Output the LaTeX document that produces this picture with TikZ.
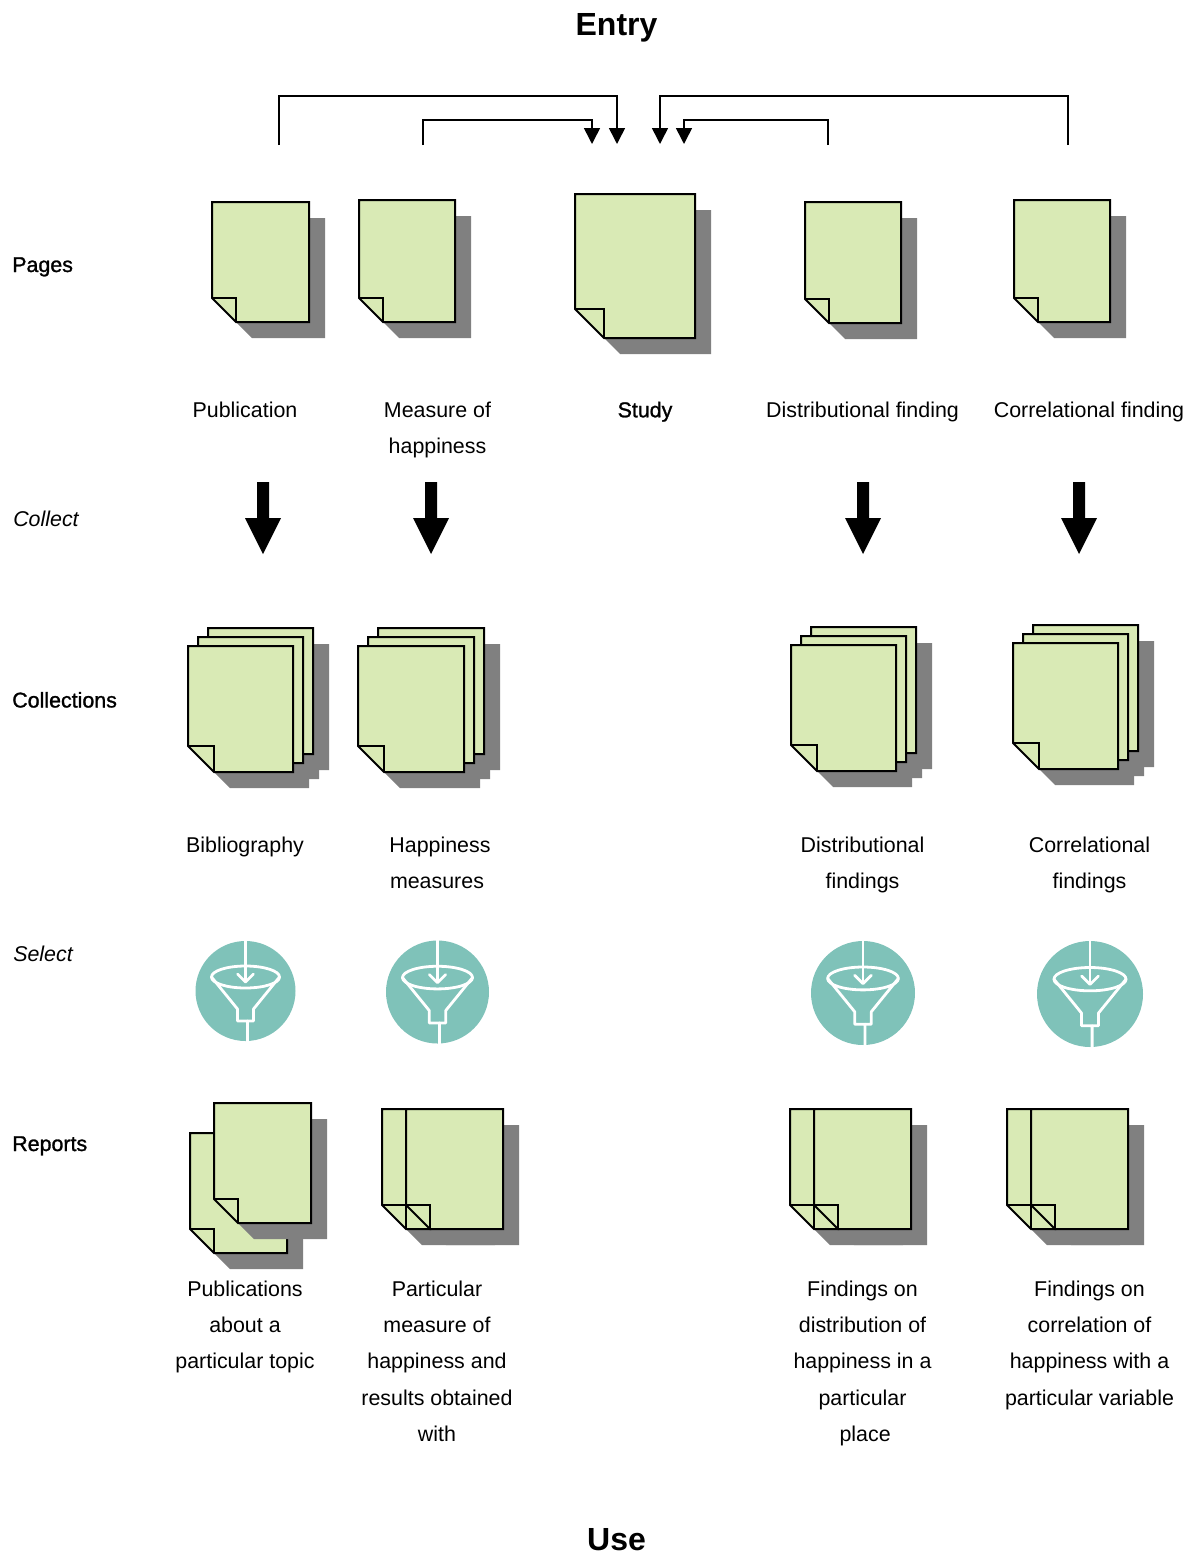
\documentclass[tikz,border=0pt]{standalone}
\usepackage{fontspec}
\setmainfont{Liberation Sans}
\newfontfamily\fakebold[FakeBold=1.2]{Liberation Sans}
\usetikzlibrary{arrows.meta}
\definecolor{pagegreen}{HTML}{D9EAB5}
\definecolor{shadowgray}{HTML}{808080}
\definecolor{filterteal}{HTML}{7FC2B9}
\tikzset{
  paper/.style={fill=pagegreen,draw=black,line width=1.5pt,line join=miter},
  papershadow/.style={fill=shadowgray,draw=none},
  bracket/.style={draw=black,line width=1.2pt,-{Triangle[width=12pt,length=12pt]}},
  labeltext/.style={anchor=north,inner sep=0pt,align=center,font=\fontsize{16.05}{27.2}\selectfont},
  sidelabel/.style={anchor=base west,inner sep=0pt,font=\fontsize{16.05}{27.2}\fakebold\selectfont},
  sideitalic/.style={anchor=base west,inner sep=0pt,font=\fontsize{16.05}{27.2}\itshape\selectfont},
  titletext/.style={inner sep=0pt,font=\fontsize{24}{28}\bfseries\selectfont},
  bigarrow/.style={fill=black,draw=none},
  funnelline/.style={draw=white,line width=2.1pt,line join=round,line cap=round}
}
% #1 x0, #2 y0, #3 x1, #4 y1, #5 fold
\newcommand{\sheetpath}[5]{(#1,#2) -- (#3,#2) -- (#3,#4) -- ({#1+#5},#4) -- (#1,{#4-#5}) -- cycle}
\newcommand{\sheetshadow}[5]{\fill[papershadow] ({#1+16},{#2+16}) -- ({#3+16},{#2+16}) -- ({#3+16},{#4+16}) -- ({#1+#5+16},{#4+16}) -- ({#1+16},{#4-#5+16}) -- cycle;}
\newcommand{\sheetbody}[5]{\draw[paper] \sheetpath{#1}{#2}{#3}{#4}{#5};
  \draw[paper,fill=none] (#1,{#4-#5}) -- ({#1+#5},{#4-#5}) -- ({#1+#5},#4);}
\newcommand{\sheet}[5]{\sheetshadow{#1}{#2}{#3}{#4}{#5}\sheetbody{#1}{#2}{#3}{#4}{#5}}
% stack of three: front x0 y0 x1 y1
\newcommand{\sheetstack}[4]{%
  \sheetshadow{#1+20}{#2-18}{#3+20}{#4-18}{26}
  \sheetshadow{#1+10}{#2-9}{#3+10}{#4-9}{26}
  \sheetshadow{#1}{#2}{#3}{#4}{26}
  \sheetbody{#1+20}{#2-18}{#3+20}{#4-18}{26}
  \sheetbody{#1+10}{#2-9}{#3+10}{#4-9}{26}
  \sheetbody{#1}{#2}{#3}{#4}{26}}
% cx, tip-free block arrow
\newcommand{\blockarrow}[1]{\fill[bigarrow] ({#1-6},482) -- ({#1+6},482) -- ({#1+6},518) -- ({#1+18},518) -- (#1,554) -- ({#1-18},518) -- ({#1-6},518) -- cycle;}
% cx cy r
\newcommand{\filtericon}[3]{%
  \begin{scope}[shift={(#1,#2)},x={#3/50*0.75pt},y={-#3/50*0.75pt}]
    \fill[filterteal] (0,0) circle[radius=50];
    \draw[funnelline] (0,-51) -- (0,-10);
    \draw[funnelline] (-8,-17) -- (0,-9) -- (8,-17);
    \draw[funnelline] (0,-14) ellipse[x radius=34,y radius=11];
    \draw[funnelline] (-34,-14) -- (-8,18) -- (-8,30) -- (2,30) -- (2,51);
    \draw[funnelline] (34,-14) -- (8,18) -- (8,30) -- (2,30);
  \end{scope}}
\begin{document}
\begin{tikzpicture}[x=0.75pt,y=-0.75pt]
\useasboundingbox (0,0) rectangle (1198,1556);
% titles
\node[titletext] (entry) at (616.5,28) {Entry};
\node[titletext] (use) at (616.5,1540) {Use};
% side labels
\node[sidelabel] (pages) at (12,272) {Pages};
\node[sideitalic] (collect) at (13,526) {Collect};
\node[sidelabel] (collections) at (12,707.5) {Collections};
\node[sideitalic] (select) at (13,961) {Select};
\node[sidelabel] (reports) at (12,1151) {Reports};
% connectors
\coordinate (a1) at (279,145); \coordinate (a1t) at (279,96); \coordinate (a1e) at (617,144); 
\coordinate (a2) at (423,145); \coordinate (a2t) at (423,120); \coordinate (a2e) at (592,144);
\coordinate (a3) at (1068,145); \coordinate (a3t) at (1068,96); \coordinate (a3e) at (660,144);
\coordinate (a4) at (828,145); \coordinate (a4t) at (828,120); \coordinate (a4e) at (684,144);
\draw[bracket] (a1) -- (a1t) -| (a1e);
\draw[bracket] (a2) -- (a2t) -| (a2e);
\draw[bracket] (a3) -- (a3t) -| (a3e);
\draw[bracket] (a4) -- (a4t) -| (a4e);
% pages
\sheet{212}{202}{309}{322}{24}
\sheet{359}{200}{455}{322}{24}
\sheet{575}{194}{695}{338}{29}
\sheet{805}{202}{901}{323}{24}
\sheet{1014}{200}{1110}{322}{24}
% page labels
\node[labeltext] (l1) at (245,391.6) {\strut Publication};
\node[labeltext] (l2) at (437.5,391.6) {\strut Measure of\\happiness};
\node[labeltext,font=\fontsize{16.05}{27.2}\fakebold\selectfont] (l3) at (645,391.6) {\strut Study};
\node[labeltext] (l4) at (862.5,391.6) {\strut Distributional finding};
\node[labeltext] (l5) at (1089,391.6) {\strut Correlational finding};
% arrows
\blockarrow{263}
\blockarrow{431}
\blockarrow{863}
\blockarrow{1079}
% collections
\sheetstack{188}{646}{293}{772}
\sheetstack{358}{646}{464}{772}
\sheetstack{791}{645}{896}{771}
\sheetstack{1013}{643}{1118}{769}
\node[labeltext] (c1) at (245,826.6) {\strut Bibliography};
\node[labeltext] (c2) at (437,826.6) {\strut \hspace*{4.5pt}Happiness\\measures};
\node[labeltext] (c3) at (862.5,826.6) {\strut Distributional\\findings};
\node[labeltext] (c4) at (1089.5,826.6) {\strut Correlational\\findings};
% filters
\filtericon{245.5}{991}{50}
\filtericon{437.5}{992}{51.5}
\filtericon{863}{993}{52}
\filtericon{1090}{994}{53}
% reports
\sheet{190}{1133}{287}{1253}{24}
\sheet{214}{1103}{311}{1223}{24}
\sheet{382}{1109}{479}{1229}{24}
\sheet{406}{1109}{503}{1229}{24}
\sheet{790}{1109}{887}{1229}{24}
\sheet{814}{1109}{911}{1229}{24}
\sheet{1007}{1109}{1104}{1229}{24}
\sheet{1031}{1109}{1128}{1229}{24}
\node[labeltext] (r1) at (245,1270.6) {\strut Publications\\about a\\particular topic};
\node[labeltext] (r2) at (437,1270.6) {\strut Particular\\measure of\\happiness and\\results obtained\\with};
\node[labeltext] (r3) at (862.5,1270.6) {\strut Findings on\\distribution of\\happiness in a\\particular\\\hspace*{4pt}place};
\node[labeltext] (r4) at (1089.5,1270.6) {\strut Findings on\\correlation of\\happiness with a\\particular variable};
\end{tikzpicture}
\end{document}
